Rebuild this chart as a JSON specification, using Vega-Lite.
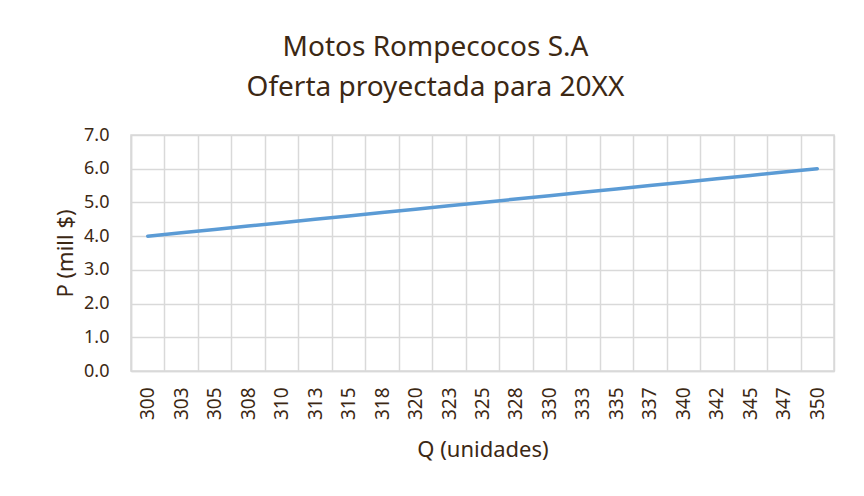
{
  "$schema": "https://vega.github.io/schema/vega-lite/v6.json",
  "width": 703,
  "height": 236,
  "autosize": "none",
  "padding": {"left": 131, "top": 135, "right": 30, "bottom": 125},
  "background": "white",
  "title": {
    "text": ["Motos Rompecocos S.A", "Oferta proyectada para 20XX"],
    "anchor": "middle",
    "dx": -47,
    "offset": 24,
    "font": "Noto Sans",
    "fontSize": 28,
    "fontWeight": "normal",
    "color": "#3c2814",
    "lineHeight": 40
  },
  "data": {
    "values": [
      {"Q": "300", "P": 4.0},
      {"Q": "303", "P": 4.1},
      {"Q": "305", "P": 4.2},
      {"Q": "308", "P": 4.3},
      {"Q": "310", "P": 4.4},
      {"Q": "313", "P": 4.5},
      {"Q": "315", "P": 4.6},
      {"Q": "318", "P": 4.7},
      {"Q": "320", "P": 4.8},
      {"Q": "323", "P": 4.9},
      {"Q": "325", "P": 5.0},
      {"Q": "328", "P": 5.1},
      {"Q": "330", "P": 5.2},
      {"Q": "333", "P": 5.3},
      {"Q": "335", "P": 5.4},
      {"Q": "337", "P": 5.5},
      {"Q": "340", "P": 5.6},
      {"Q": "342", "P": 5.7},
      {"Q": "345", "P": 5.8},
      {"Q": "347", "P": 5.9},
      {"Q": "350", "P": 6.0}
    ]
  },
  "mark": {"type": "line", "color": "#5b9bd5", "strokeWidth": 3.5, "strokeCap": "round"},
  "encoding": {
    "x": {
      "field": "Q",
      "type": "ordinal",
      "sort": null,
      "scale": {"type": "band", "paddingInner": 0, "paddingOuter": 0},
      "axis": {
        "title": "Q (unidades)",
        "labelAngle": 270,
        "labelPadding": 16,
        "labelFontSize": 19,
        "ticks": false,
        "grid": true,
        "tickBand": "extent",
        "titlePadding": 20
      }
    },
    "y": {
      "field": "P",
      "type": "quantitative",
      "scale": {"domain": [0, 7]},
      "axis": {
        "title": "P (mill $)",
        "values": [0, 1, 2, 3, 4, 5, 6, 7],
        "format": ".1f",
        "ticks": false,
        "labelPadding": 22,
        "titlePadding": 6
      }
    }
  },
  "config": {
    "view": {"stroke": "#d9d9d9", "strokeWidth": 1.5},
    "axis": {
      "labelFont": "Noto Sans",
      "labelFontSize": 18,
      "labelColor": "#3c2814",
      "titleFont": "Noto Sans",
      "titleFontSize": 22,
      "titleFontWeight": "normal",
      "titleColor": "#3c2814",
      "gridColor": "#d9d9d9",
      "gridWidth": 1.5,
      "gridOpacity": 1,
      "domainColor": "#d9d9d9",
      "domainWidth": 1.5
    }
  }
}
